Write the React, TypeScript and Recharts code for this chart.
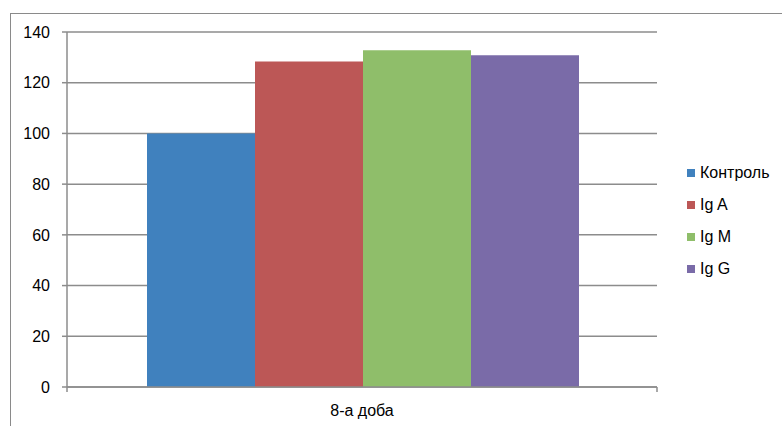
import { BarChart, Bar, XAxis, YAxis, CartesianGrid, Legend } from "recharts";

const categories = ["8-а доба"];
const seriesNames = ["Контроль", "Ig A", "Ig M", "Ig G"];
const seriesValues = [100, 128.4, 132.8, 130.8];
const seriesColors = ["#4081BE", "#BC5756", "#8FBE6A", "#7A6BA8"];
const yTicks = [0, 20, 40, 60, 80, 100, 120, 140];

const data = categories.map((name) => {
  const row: Record<string, string | number> = { name };
  seriesNames.forEach((s, i) => {
    row[s] = seriesValues[i];
  });
  return row;
});

const FONT = "'Liberation Sans', Arial, sans-serif";
const GRID = "#8c8c8c";

// keep the series order of the source, recharts sorts the payload otherwise
const LegendContent = () => (
  <div style={{ fontFamily: FONT, fontSize: 16, color: "#000" }}>
    {seriesNames.map((s, i) => (
      <div key={s} style={{ display: "flex", alignItems: "center", height: 32 }}>
        <span
          style={{
            display: "inline-block",
            width: 8,
            height: 8,
            background: seriesColors[i],
            marginRight: 5,
          }}
        />
        <span>{s}</span>
      </div>
    ))}
  </div>
);

// excel style category tick: marks at the band edges, label in the middle
const CategoryTick = (props: any) => {
  const { x, y, payload } = props;
  const half = payload && payload.offset ? payload.offset : 0;
  return (
    <g>
      {half > 0 && (
        <>
          <line x1={x - half} x2={x - half} y1={y} y2={y + 5} stroke={GRID} strokeWidth={1.5} />
          <line x1={x + half} x2={x + half} y1={y} y2={y + 5} stroke={GRID} strokeWidth={1.5} />
        </>
      )}
      <text x={x} y={y + 29} textAnchor="middle" fill="#000" fontSize={16} fontFamily={FONT}>
        {payload.value}
      </text>
    </g>
  );
};

const App = () => {
  return (
    <div style={{ position: "absolute", left: 0, top: 0, width: 782, height: 426, background: "#fff" }}>
      <div
        style={{
          position: "absolute",
          left: 10,
          top: 13,
          width: 790,
          height: 430,
          border: "1.5px solid #8a8a8a",
        }}
      />
      <BarChart
        width={782}
        height={426}
        data={data}
        margin={{ top: 32, right: 30, bottom: 0, left: 0 }}
        barCategoryGap={80}
        barGap={0}
      >
        <CartesianGrid vertical={false} stroke={GRID} strokeWidth={1.5} />
        <XAxis
          dataKey="name"
          height={39}
          axisLine={{ stroke: GRID, strokeWidth: 1.5 }}
          tickLine={false}
          tickSize={0}
          tickMargin={0}
          tick={<CategoryTick />}
        />
        <YAxis
          width={67}
          domain={[0, 140]}
          ticks={yTicks}
          interval={0}
          axisLine={{ stroke: GRID, strokeWidth: 1.5 }}
          tickLine={{ stroke: GRID, strokeWidth: 1.5 }}
          tickSize={5}
          tickMargin={12}
          tick={{ fill: "#000", fontSize: 16, fontFamily: FONT }}
        />
        <Legend
          layout="vertical"
          align="right"
          verticalAlign="top"
          content={<LegendContent />}
          wrapperStyle={{ left: 687, top: 157, width: 95 }}
        />
        {seriesNames.map((s, i) => (
          <Bar key={s} dataKey={s} fill={seriesColors[i]} isAnimationActive={false} />
        ))}
      </BarChart>
    </div>
  );
};

export default App;
